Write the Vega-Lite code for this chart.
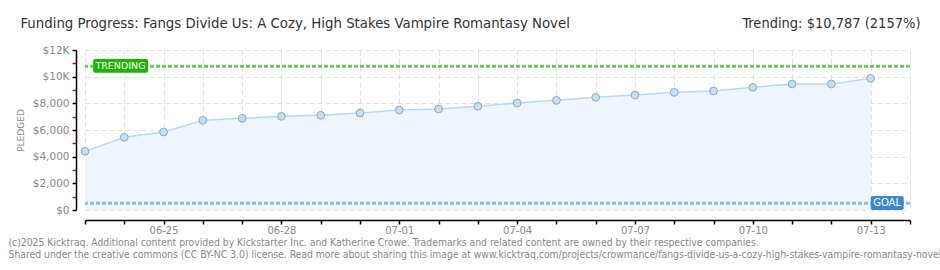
{
  "$schema": "https://vega.github.io/schema/vega-lite/v6.json",
  "width": 825,
  "height": 160,
  "autosize": {"type": "none"},
  "padding": {"left": 85, "top": 50, "right": 30, "bottom": 60},
  "background": "white",
  "config": {
    "view": {"stroke": null},
    "font": "DejaVu Sans",
    "axis": {"titleFontWeight": "normal"}
  },
  "datasets": {
    "pledges": [
      {"date": "2025-06-23", "pledged": 4400},
      {"date": "2025-06-24", "pledged": 5450},
      {"date": "2025-06-25", "pledged": 5850},
      {"date": "2025-06-26", "pledged": 6725},
      {"date": "2025-06-27", "pledged": 6875},
      {"date": "2025-06-28", "pledged": 7025},
      {"date": "2025-06-29", "pledged": 7100},
      {"date": "2025-06-30", "pledged": 7275},
      {"date": "2025-07-01", "pledged": 7500},
      {"date": "2025-07-02", "pledged": 7575},
      {"date": "2025-07-03", "pledged": 7775},
      {"date": "2025-07-04", "pledged": 8025},
      {"date": "2025-07-05", "pledged": 8225},
      {"date": "2025-07-06", "pledged": 8450},
      {"date": "2025-07-07", "pledged": 8625},
      {"date": "2025-07-08", "pledged": 8825},
      {"date": "2025-07-09", "pledged": 8925},
      {"date": "2025-07-10", "pledged": 9200},
      {"date": "2025-07-11", "pledged": 9450},
      {"date": "2025-07-12", "pledged": 9450},
      {"date": "2025-07-13", "pledged": 9875}
    ],
    "one": [{"label": "annotation"}]
  },
  "resolve": {"scale": {"x": "shared", "y": "shared"}, "axis": {"x": "independent", "y": "independent"}},
  "layer": [
    {
      "data": {"name": "pledges"},
      "mark": {"type": "area", "color": "#eef5fd", "opacity": 1},
      "encoding": {
        "x": {
          "field": "date", "type": "temporal",
          "scale": {"type": "utc", "domain": [{"year": 2025, "month": 6, "date": 23, "utc": true}, {"year": 2025, "month": 7, "date": 14, "utc": true}], "nice": false},
          "axis": {
            "orient": "bottom",
            "offset": 10,
            "tickCount": {"interval": "day", "step": 1},
            "labelExpr": "utcdate(datum.value) % 3 == 1 ? utcFormat(datum.value, '%m-%d') : ''",
            "labelColor": "#888888",
            "labelFontSize": 10,
            "labelPadding": 1,
            "labelFlush": false,
            "labelOverlap": false,
            "domainColor": "#000000",
            "domainWidth": 1.5,
            "tickColor": "#000000",
            "tickSize": 4,
            "tickWidth": 1.5,
            "grid": true,
            "gridColor": "#e2e2e2",
            "gridDash": [5, 3],
            "title": ["(c)2025 Kicktraq. Additional content provided by Kickstarter Inc. and Katherine Crowe. Trademarks and related content are owned by their respective companies.", "Shared under the creative commons (CC BY-NC 3.0) license. Read more about sharing this image at www.kicktraq.com/projects/crowmance/fangs-divide-us-a-cozy-high-stakes-vampire-romantasy-novel/"],
            "titleFont": "DejaVu Sans Condensed",
            "titleFontSize": 10.3,
            "titleColor": "#888888",
            "titleAnchor": "start",
            "titleAlign": "left",
            "titleBaseline": "top",
            "titleLineHeight": 12.5,
            "titleX": -77,
            "titleY": 17
          }
        },
        "y": {
          "field": "pledged", "type": "quantitative",
          "scale": {"domain": [0, 12000], "nice": false},
          "axis": {
            "values": [0, 1000, 2000, 3000, 4000, 5000, 6000, 7000, 8000, 9000, 10000, 11000, 12000],
            "labelExpr": "datum.value % 2000 != 0 ? '' : (datum.value >= 10000 ? '$' + (datum.value / 1000) + 'K' : '$' + format(datum.value, ','))",
            "offset": 9,
            "labelColor": "#888888",
            "labelFontSize": 10.5,
            "labelPadding": 3,
            "labelFlush": false,
            "labelOverlap": false,
            "domainColor": "#000000",
            "domainWidth": 1.5,
            "tickColor": {"condition": {"test": "datum.value % 2000 != 0", "value": "#e01010"}, "value": "#000000"},
            "tickSize": 4,
            "tickWidth": 1.5,
            "grid": true,
            "gridColor": {"condition": {"test": "datum.value % 2000 != 0", "value": "transparent"}, "value": "#e2e2e2"},
            "gridDash": [5, 3],
            "title": "PLEDGED",
            "titleFontSize": 9,
            "titleColor": "#888888",
            "titleX": -56,
            "titleY": 80,
            "titleBaseline": "middle",
            "titleAlign": "center"
          }
        }
      }
    },
    {
      "data": {"name": "pledges"},
      "mark": {"type": "line", "color": "#bdd7f3", "strokeWidth": 1.5},
      "encoding": {
        "x": {"field": "date", "type": "temporal", "axis": null},
        "y": {"field": "pledged", "type": "quantitative", "axis": null}
      }
    },
    {
      "data": {"name": "one"},
      "mark": {"type": "rule", "color": "#6ccb5a", "strokeWidth": 3, "strokeDash": [4, 2]},
      "encoding": {"y": {"datum": 10787, "type": "quantitative", "axis": null}}
    },
    {
      "data": {"name": "one"},
      "mark": {"type": "rule", "color": "#8fbbe8", "strokeWidth": 3, "strokeDash": [4, 2]},
      "encoding": {"y": {"datum": 500, "type": "quantitative", "axis": null}}
    },
    {
      "data": {"name": "pledges"},
      "mark": {"type": "point", "filled": true, "fill": "#c6ddf6", "stroke": "#8ea6c4", "strokeWidth": 1, "opacity": 1, "size": 60},
      "encoding": {
        "x": {"field": "date", "type": "temporal", "axis": null},
        "y": {"field": "pledged", "type": "quantitative", "axis": null}
      }
    },
    {
      "data": {"name": "one"},
      "mark": {"type": "rect", "color": "#1db300", "cornerRadius": 2},
      "encoding": {
        "x": {"datum": {"year": 2025, "month": 6, "date": 23, "hours": 5, "utc": true}, "type": "temporal", "axis": null},
        "x2": {"datum": {"year": 2025, "month": 6, "date": 24, "hours": 14, "minutes": 30, "utc": true}},
        "y": {"datum": 11325, "type": "quantitative", "axis": null},
        "y2": {"datum": 10300}
      }
    },
    {
      "data": {"name": "one"},
      "mark": {"type": "text", "color": "white", "fontSize": 9.5, "font": "DejaVu Sans", "align": "center", "baseline": "middle"},
      "encoding": {
        "x": {
          "datum": {"year": 2025, "month": 6, "date": 23, "hours": 21, "minutes": 40, "utc": true}, "type": "temporal",
          "axis": {
            "orient": "top",
            "domain": false, "ticks": false, "labels": false, "grid": false,
            "title": "Funding Progress: Fangs Divide Us: A Cozy, High Stakes Vampire Romantasy Novel",
            "titleFont": "DejaVu Sans Condensed",
            "titleFontSize": 14.8,
            "titleColor": "#333333",
            "titleAnchor": "start",
            "titleAlign": "left",
            "titleBaseline": "alphabetic",
            "titleX": -65,
            "titleY": -23
          }
        },
        "y": {"datum": 10800, "type": "quantitative", "axis": null},
        "text": {"value": "TRENDING"}
      }
    },
    {
      "data": {"name": "one"},
      "mark": {"type": "rect", "color": "#3a87d6", "cornerRadius": 2},
      "encoding": {
        "x": {"datum": {"year": 2025, "month": 7, "date": 13, "utc": true}, "type": "temporal", "axis": null},
        "x2": {"datum": {"year": 2025, "month": 7, "date": 13, "hours": 20, "minutes": 10, "utc": true}},
        "y": {"datum": 1050, "type": "quantitative", "axis": null},
        "y2": {"datum": 0}
      }
    },
    {
      "data": {"name": "one"},
      "mark": {"type": "text", "color": "white", "fontSize": 10, "font": "DejaVu Sans", "align": "center", "baseline": "middle"},
      "encoding": {
        "x": {
          "datum": {"year": 2025, "month": 7, "date": 13, "hours": 10, "utc": true}, "type": "temporal",
          "axis": {
            "orient": "top",
            "domain": false, "ticks": false, "labels": false, "grid": false,
            "title": "Trending:  $10,787 (2157%)",
            "titleFont": "DejaVu Sans Condensed",
            "titleFontSize": 14.5,
            "titleColor": "#333333",
            "titleAnchor": "end",
            "titleAlign": "right",
            "titleBaseline": "alphabetic",
            "titleX": 835,
            "titleY": -23
          }
        },
        "y": {"datum": 525, "type": "quantitative", "axis": null},
        "text": {"value": "GOAL"}
      }
    }
  ]
}
